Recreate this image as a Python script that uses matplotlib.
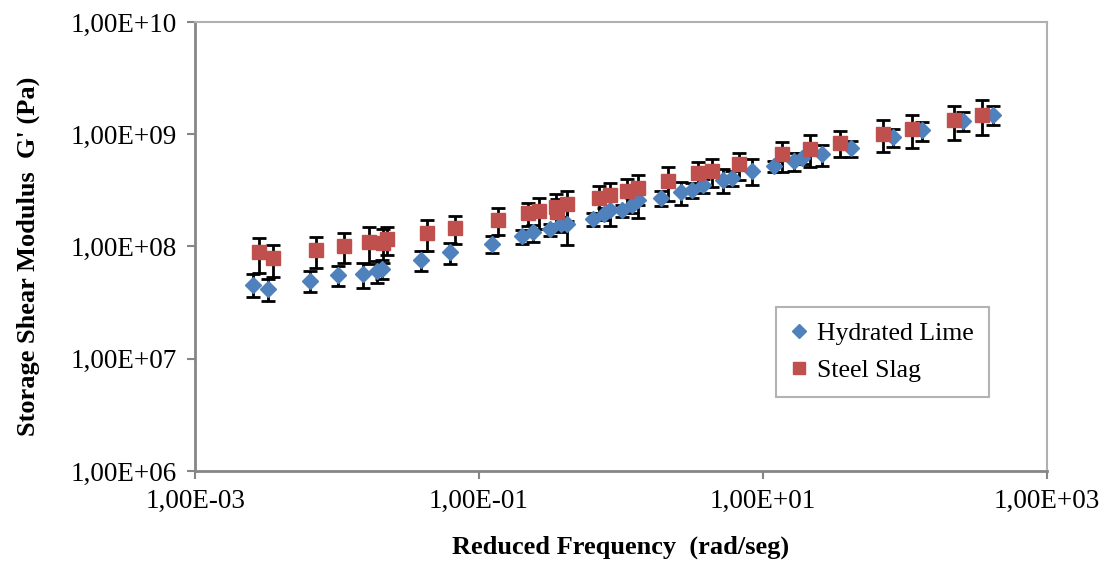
import matplotlib
matplotlib.use('Agg')
import matplotlib.pyplot as plt
from matplotlib.ticker import FuncFormatter, FixedLocator, NullLocator
from matplotlib.lines import Line2D

plt.rcParams['font.family'] = ['Liberation Serif', 'DejaVu Serif']

# Hydrated Lime
freq_lime = [2.57e-3, 3.25e-3, 6.45e-3, 1.02e-2, 1.53e-2, 1.92e-2, 2.06e-2, 3.90e-2,
             6.25e-2, 0.1235, 0.2008, 0.2412, 0.3177, 0.378, 0.4166, 0.6329, 0.7555,
             0.8366, 1.011, 1.19, 1.324, 1.922, 2.645, 3.162, 3.78, 5.253, 6.022,
             8.326, 11.95, 16.61, 18.73, 26.16, 41.8, 82.7, 131.1, 257.4, 414.6]
g_lime = [4.58e7, 4.19e7, 4.97e7, 5.59e7, 5.71e7, 6.11e7, 6.32e7, 7.61e7,
          8.89e7, 1.053e8, 1.228e8, 1.334e8, 1.418e8, 1.594e8, 1.594e8, 1.767e8, 1.951e8,
          2.097e8, 2.097e8, 2.347e8, 2.575e8, 2.721e8, 3.053e8, 3.195e8, 3.504e8, 3.949e8, 4.107e8,
          4.732e8, 5.18e8, 5.74e8, 6.14e8, 6.63e8, 7.50e8, 9.46e8, 1.086e9, 1.314e9, 1.499e9]
err_lime = [1.05e7, 9.1e6, 1.04e7, 1.12e7, 1.40e7, 1.37e7, 1.20e7, 1.52e7,
            1.96e7, 1.79e7, 1.78e7, 2.27e7, 1.84e7, 2.39e7, 5.58e7, 2.30e7, 2.34e7,
            5.87e7, 2.52e7, 3.52e7, 7.73e7, 4.08e7, 6.87e7, 4.79e7, 5.26e7, 9.68e7, 6.16e7,
            1.23e8, 5.70e7, 1.03e8, 7.37e7, 1.39e8, 1.28e8, 1.80e8, 2.06e8, 2.50e8, 2.85e8]

# Steel Slag
freq_slag = [2.82e-3, 3.56e-3, 7.11e-3, 1.12e-2, 1.69e-2, 2.12e-2, 2.24e-2, 4.28e-2,
             6.78e-2, 0.1361, 0.2214, 0.2654, 0.3485, 0.3559, 0.4185, 0.6999, 0.8366,
             1.097, 1.317, 2.154, 3.474, 4.373, 6.81, 13.54, 21.43, 34.85, 70.35,
             111.5, 221.4, 350.3]
g_slag = [8.89e7, 7.86e7, 9.34e7, 1.014e8, 1.092e8, 1.070e8, 1.155e8, 1.314e8,
          1.469e8, 1.731e8, 1.983e8, 2.063e8, 2.243e8, 2.025e8, 2.406e8, 2.721e8, 2.853e8,
          3.117e8, 3.315e8, 3.805e8, 4.485e8, 4.693e8, 5.396e8, 6.63e8, 7.45e8, 8.43e8, 1.014e9,
          1.124e9, 1.334e9, 1.499e9]
err_slag = [3.11e7, 2.48e7, 2.90e7, 3.04e7, 3.88e7, 3.53e7, 3.23e7, 3.94e7,
            4.11e7, 4.67e7, 4.56e7, 6.19e7, 6.73e7, 6.08e7, 7.22e7, 7.35e7, 7.99e7,
            8.73e7, 9.95e7, 1.26e8, 1.17e8, 1.27e8, 1.48e8, 1.99e8, 2.35e8, 2.19e8, 3.19e8,
            3.71e8, 4.47e8, 5.10e8]

x_ticks = [1e-3, 1e-1, 1e1, 1e3]
y_ticks = [1e6, 1e7, 1e8, 1e9, 1e10]

blue = '#4F81BD'
red = '#C0504D'


def excel_sci(v, pos=None):
    s = '%.2E' % v
    mant, exp = s.split('E')
    return mant.replace('.', ',') + 'E' + exp


fig = plt.figure(figsize=(11.02, 5.66), dpi=100)
ax = fig.add_axes([0.177, 0.168, 0.773, 0.793])

ax.errorbar(freq_lime, g_lime, yerr=err_lime, fmt='none', ecolor='black',
            elinewidth=2, capsize=5, capthick=2, zorder=2)
ax.errorbar(freq_slag, g_slag, yerr=err_slag, fmt='none', ecolor='black',
            elinewidth=2, capsize=5, capthick=2, zorder=2)
ax.plot(freq_lime, g_lime, linestyle='none', marker='D', markersize=8.5,
        color=blue, markeredgecolor=blue, zorder=3)
ax.plot(freq_slag, g_slag, linestyle='none', marker='s', markersize=10.5,
        color=red, markeredgecolor=red, zorder=4)

ax.set_xscale('log')
ax.set_yscale('log')
ax.set_xlim(1e-3, 1e3)
ax.set_ylim(1e6, 1e10)
ax.xaxis.set_major_locator(FixedLocator(x_ticks))
ax.yaxis.set_major_locator(FixedLocator(y_ticks))
ax.xaxis.set_minor_locator(NullLocator())
ax.yaxis.set_minor_locator(NullLocator())
ax.xaxis.set_major_formatter(FuncFormatter(excel_sci))
ax.yaxis.set_major_formatter(FuncFormatter(excel_sci))
ax.tick_params(axis='both', which='major', direction='out', length=6, width=1.5,
               color='#868686', labelsize=19.5, pad=7)

for side in ['left', 'bottom']:
    ax.spines[side].set_color('#868686')
    ax.spines[side].set_linewidth(2)
for side in ['top', 'right']:
    ax.spines[side].set_color('#B0B0B0')
    ax.spines[side].set_linewidth(1.5)

ax.set_xlabel('Reduced Frequency  (rad/seg)', fontsize=19, fontweight='bold')
ax.set_ylabel("Storage Shear Modulus  G' (Pa)", fontsize=19, fontweight='bold')
ax.xaxis.set_label_coords(0.5, -0.145)
ax.yaxis.set_label_coords(-0.182, 0.478)

handles = [Line2D([], [], linestyle='none', marker='D', markersize=7, color=blue),
           Line2D([], [], linestyle='none', marker='s', markersize=9, color=red)]
leg = ax.legend(handles, ['Hydrated Lime', 'Steel Slag'], loc='center',
                bbox_to_anchor=(0.807, 0.265), fontsize=18.5, frameon=True,
                fancybox=False, edgecolor='#A0A0A0', handlelength=0.6,
                handletextpad=0.4, labelspacing=0.55, borderpad=0.6)
leg.get_frame().set_linewidth(1.5)

fig.savefig('out.png', dpi=100)
